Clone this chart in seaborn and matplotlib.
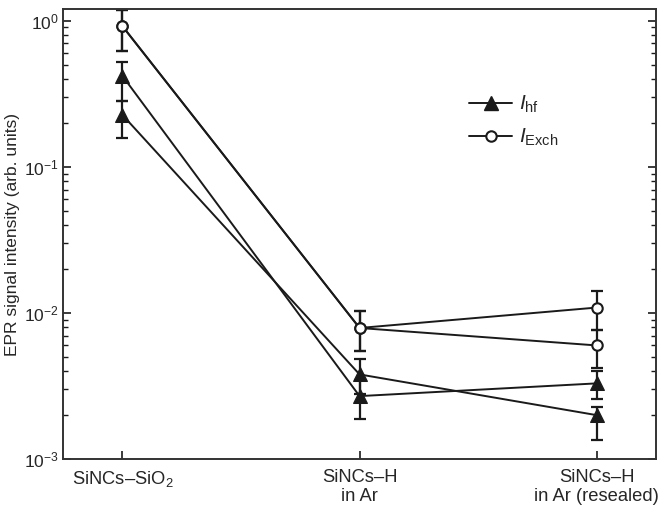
import numpy as np
import pandas as pd
import matplotlib
matplotlib.use("Agg")
import matplotlib.pyplot as plt
from matplotlib.lines import Line2D
from matplotlib.ticker import LogLocator, NullFormatter
import seaborn as sns

sns.set_style("ticks")
plt.rcParams["font.family"] = ["Liberation Sans", "DejaVu Sans"]
plt.rcParams["mathtext.fontset"] = "custom"
plt.rcParams["mathtext.rm"] = "Liberation Sans"
plt.rcParams["mathtext.it"] = "Liberation Sans:italic"
plt.rcParams["mathtext.bf"] = "Liberation Sans:bold"

# samples along x
samples = ["SiNCs\u2013SiO$_2$", "SiNCs\u2013H\nin Ar", "SiNCs\u2013H\nin Ar (resealed)"]
x_pos = [0, 1, 2]

# I_Exch, two sample runs (value, lower end, upper end of error bar)
exch1 = [0.92, 0.0079, 0.0109]
exch1_lo = [0.626, 0.0055, 0.0077]
exch1_hi = [1.19, 0.0104, 0.0142]
exch2 = [0.92, 0.0079, 0.0060]
exch2_lo = [0.626, 0.0055, 0.0042]
exch2_hi = [1.19, 0.0104, 0.0077]

# I_hf, two sample runs
hf1 = [0.42, 0.0027, 0.0033]
hf1_lo = [0.284, 0.00187, 0.00257]
hf1_hi = [0.526, 0.0035, 0.0040]
hf2 = [0.227, 0.0038, 0.0020]
hf2_lo = [0.157, 0.0028, 0.00136]
hf2_hi = [0.284, 0.00484, 0.00228]


def long_form(vals, lo, hi):
    # three rows per point: median = value, min/max = error bar ends
    rows = []
    for x, v, l, h in zip(x_pos, vals, lo, hi):
        for y in (l, v, h):
            rows.append({"x": x, "y": y})
    return pd.DataFrame(rows)


ink = "#1a1a1a"
fig = plt.figure(figsize=(6.64, 5.13), dpi=100)
ax = fig.add_axes([0.095, 0.105, 0.893, 0.877])

err_kws = dict(capsize=4.5, capthick=1.6, elinewidth=1.6, zorder=2)

for vals, lo, hi in [(hf1, hf1_lo, hf1_hi), (hf2, hf2_lo, hf2_hi)]:
    sns.lineplot(data=long_form(vals, lo, hi), x="x", y="y", ax=ax,
                 estimator=np.median, errorbar=lambda v: (v.min(), v.max()),
                 err_style="bars", err_kws=err_kws, color=ink, lw=1.4,
                 marker="^", markersize=10, markerfacecolor=ink,
                 markeredgecolor=ink, zorder=3)

for vals, lo, hi in [(exch1, exch1_lo, exch1_hi), (exch2, exch2_lo, exch2_hi)]:
    sns.lineplot(data=long_form(vals, lo, hi), x="x", y="y", ax=ax,
                 estimator=np.median, errorbar=lambda v: (v.min(), v.max()),
                 err_style="bars", err_kws=err_kws, color=ink, lw=1.4,
                 marker="o", markersize=7.5, markerfacecolor="white",
                 markeredgecolor=ink, markeredgewidth=1.5, zorder=3)

ax.set_yscale("log")
ax.set_ylim(1e-3, 1.2)
ax.set_xlim(-0.25, 2.25)
ax.yaxis.set_major_locator(LogLocator(base=10, numticks=10))
ax.yaxis.set_minor_locator(LogLocator(base=10, subs=np.arange(2, 10), numticks=20))
ax.yaxis.set_minor_formatter(NullFormatter())

ax.set_xticks(x_pos)
ax.set_xticklabels(samples, fontsize=13.2)
ax.set_xlabel("")
ax.set_ylabel("EPR signal intensity (arb. units)", fontsize=12.5)
ax.yaxis.set_label_coords(-0.072, 0.5)

ax.tick_params(axis="y", which="major", direction="in", length=6, width=1.2,
               right=True, labelsize=12.5, pad=3, color=ink)
ax.tick_params(axis="y", which="minor", direction="in", length=3.5, width=1.0,
               right=True, color=ink)
ax.tick_params(axis="x", which="major", direction="in", length=6, width=1.2,
               top=False, pad=7, color=ink)
for sp in ax.spines.values():
    sp.set_visible(True)
    sp.set_linewidth(1.4)
    sp.set_color("#333333")

handles = [
    Line2D([], [], color=ink, lw=1.4, marker="^", markersize=10,
           markerfacecolor=ink, markeredgecolor=ink),
    Line2D([], [], color=ink, lw=1.4, marker="o", markersize=7.5,
           markerfacecolor="white", markeredgecolor=ink, markeredgewidth=1.5),
]
ax.legend(handles, [r"$I_{\mathrm{hf}}$", r"$I_{\mathrm{Exch}}$"],
          loc="upper left", bbox_to_anchor=(0.67, 0.83), frameon=False,
          fontsize=15, handlelength=2.1, handletextpad=0.3,
          labelspacing=0.55, borderaxespad=0)

fig.savefig("out.png", dpi=100)
